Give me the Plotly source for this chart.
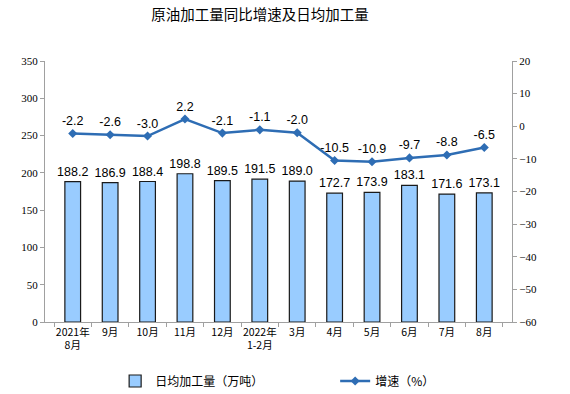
import plotly.graph_objects as go

categories = ["2021年<br>8月", "9月", "10月", "11月", "12月", "2022年<br>1-2月", "3月", "4月", "5月", "6月", "7月", "8月"]
daily_output = [188.2, 186.9, 188.4, 198.8, 189.5, 191.5, 189.0, 172.7, 173.9, 183.1, 171.6, 173.1]
growth = [-2.2, -2.6, -3.0, 2.2, -2.1, -1.1, -2.0, -10.5, -10.9, -9.7, -8.8, -6.5]

fig = go.Figure()
fig.add_trace(go.Bar(
    x=categories, y=daily_output, name="日均加工量（万吨）",
    marker=dict(color="#99CCFF", line=dict(color="#1a1a1a", width=1.2)),
    width=0.42,
    text=[f"{v:.1f}" for v in daily_output], textposition="outside",
    constraintext="none",
    textfont=dict(family="Arial, Liberation Sans", size=12.5, color="#000"),
    cliponaxis=False, legend="legend",
))
fig.add_trace(go.Scatter(
    x=categories, y=growth, name="增速（%）", yaxis="y2",
    mode="lines+markers+text",
    line=dict(color="#2E6DB4", width=2.5),
    marker=dict(symbol="diamond", size=7, color="#2E6DB4"),
    text=[f"{v:.1f}" for v in growth], textposition="top center",
    textfont=dict(family="Arial, Liberation Sans", size=12.5, color="#000"),
    cliponaxis=False, legend="legend2",
))

fig.update_layout(
    width=570, height=394,
    margin=dict(l=45, r=58, t=61, b=72),
    plot_bgcolor="white", paper_bgcolor="white",
    title=dict(text="原油加工量同比增速及日均加工量", x=0.456, xanchor="center", xref="container",
               y=0.962, yanchor="middle", yref="container",
               font=dict(family="Noto Sans CJK SC", size=14.5, color="#000")),
    font=dict(family="Noto Sans CJK SC", size=11, color="#000"),
    xaxis=dict(showline=True, linecolor="#a0a0a0", ticks="outside", ticklen=4, tickcolor="#a0a0a0",
               tickson="boundaries", showgrid=False, tickangle=0, automargin=False,
               tickfont=dict(family="Noto Sans CJK SC", size=10.5)),
    yaxis=dict(range=[0, 350], dtick=50, showline=True, linecolor="#a0a0a0", ticks="outside", ticklen=4,
               tickcolor="#a0a0a0", showgrid=False, zeroline=False, automargin=False,
               tickfont=dict(family="Liberation Serif", size=11)),
    yaxis2=dict(range=[-60, 20], dtick=10, overlaying="y", side="right", showline=True, linecolor="#a0a0a0",
                ticks="outside", ticklen=4, tickcolor="#a0a0a0", showgrid=False, zeroline=False,
                automargin=False,
                tickfont=dict(family="Liberation Serif", size=11)),
    legend=dict(orientation="h", x=0.202, xanchor="left", xref="container",
                y=0.033, yanchor="middle", yref="container",
                font=dict(family="Noto Sans CJK SC", size=12), itemwidth=30),
    legend2=dict(orientation="h", x=0.588, xanchor="left", xref="container",
                 y=0.033, yanchor="middle", yref="container",
                 font=dict(family="Noto Sans CJK SC", size=12), itemwidth=30),
    showlegend=True,
)

fig.write_html("out.html", config={"displayModeBar": False},
               post_script="document.body.style.margin='0';")
